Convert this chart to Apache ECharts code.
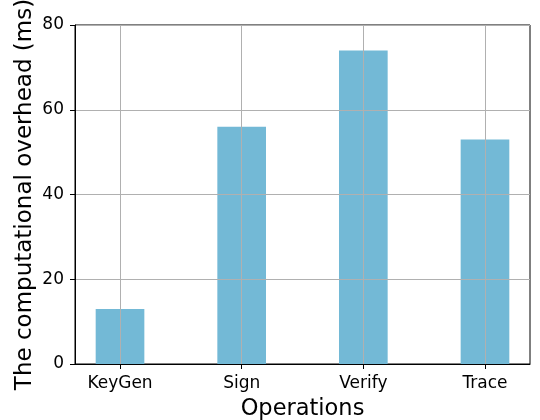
<!DOCTYPE html>
<html>
<head>
<meta charset="utf-8">
<script src="https://cdn.jsdelivr.net/npm/echarts@6/dist/echarts.min.js"></script>
<style>
  html, body { margin: 0; padding: 0; background: #fff; }
  #chart { width: 540px; height: 420px; }
</style>
</head>
<body>
<div id="chart"></div>
<script>
// Operations and their measured computational overhead (ms)
const operations = ['KeyGen', 'Sign', 'Verify', 'Trace'];
const overheadMs = [13, 56, 74, 53];
const yTicks = [0, 20, 40, 60, 80];

const FONT = 'DejaVu Sans';
const positions = operations.map((_, i) => i);

const chart = echarts.init(document.getElementById('chart'), null, { renderer: 'canvas' });

chart.setOption({
  animation: false,
  backgroundColor: '#ffffff',
  grid: {
    left: 75, right: 10, top: 25, bottom: 56,
    containLabel: false,
    outerBoundsMode: 'none',
    show: true, borderColor: '#000', borderWidth: 1, backgroundColor: 'transparent'
  },
  xAxis: {
    type: 'value',
    min: -0.37, max: 3.37,
    z: 5,
    name: 'Operations',
    nameLocation: 'middle',
    nameGap: 34,
    nameMoveOverlap: false,
    nameTextStyle: { fontFamily: FONT, fontSize: 22.5, color: '#000' },
    axisLine: { show: true, onZero: false, lineStyle: { color: '#000', width: 1 } },
    axisTick: { show: true, length: 5, lineStyle: { color: '#000', width: 1 }, customValues: positions },
    axisLabel: {
      fontFamily: FONT, fontSize: 17, color: '#000', margin: 11,
      customValues: positions,
      formatter: v => operations[Math.round(v)] || ''
    },
    splitLine: { show: true, lineStyle: { color: '#b0b0b0', width: 1 } }
  },
  yAxis: {
    type: 'value',
    min: 0, max: 80, interval: 20,
    z: 5,
    name: 'The computational overhead (ms)',
    nameLocation: 'middle',
    nameGap: 38,
    nameMoveOverlap: false,
    nameTextStyle: { fontFamily: FONT, fontSize: 23, color: '#000' },
    axisLine: { show: true, onZero: false, lineStyle: { color: '#000', width: 1 } },
    axisTick: { show: true, length: 5, lineStyle: { color: '#000', width: 1 } },
    axisLabel: {
      fontFamily: FONT, fontSize: 17, color: '#000', margin: 11,
      customValues: yTicks
    },
    splitLine: { show: true, lineStyle: { color: '#b0b0b0', width: 1 } }
  },
  series: [{
    type: 'bar',
    z: 2,
    barWidth: '40%',
    itemStyle: { color: '#73b9d6' },
    data: positions.map((p, i) => [p, overheadMs[i]])
  }]
});
</script>
</body>
</html>
